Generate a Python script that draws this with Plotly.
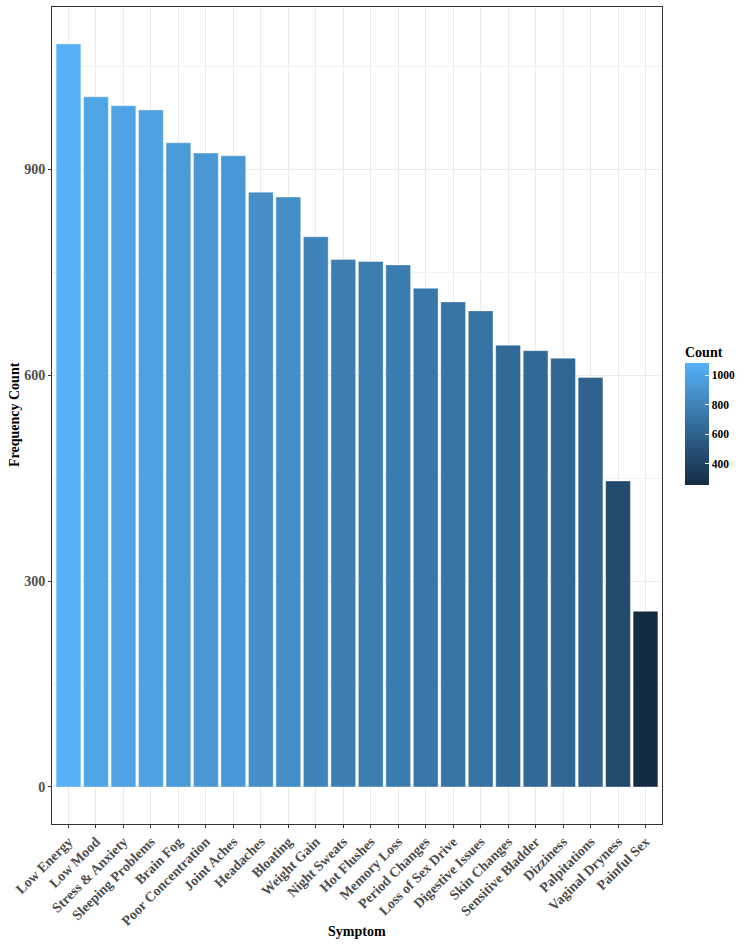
import plotly.graph_objects as go

symptoms = ["Low Energy", "Low Mood", "Stress & Anxiety", "Sleeping Problems", "Brain Fog",
            "Poor Concentration", "Joint Aches", "Headaches", "Bloating", "Weight Gain",
            "Night Sweats", "Hot Flushes", "Memory Loss", "Period Changes", "Loss of Sex Drive",
            "Digestive Issues", "Skin Changes", "Sensitive Bladder", "Dizziness", "Palpitations",
            "Vaginal Dryness", "Painful Sex"]
counts = [1083, 1006, 993, 987, 939, 924, 920, 867, 860, 802, 769, 766, 761, 727, 707,
          694, 644, 636, 625, 597, 446, 256]

y_ticks = [0, 300, 600, 900]
cbar_ticks = [400, 600, 800, 1000]

FONT = "Liberation Serif"
L, R, T, B = 52, 92, 7, 123
W, H = 754, 947

fig = go.Figure(go.Bar(
    x=symptoms, y=counts, width=0.9,
    marker=dict(color=counts, colorscale=[[0, "#132B43"], [1, "#56B1F7"]],
                cmin=min(counts), cmax=max(counts),
                line=dict(color="rgba(255,255,255,0.6)", width=0.6),
                colorbar=dict(
                    title=dict(text="<b>Count</b>", font=dict(family=FONT, size=14, color="black"), side="top"),
                    tickvals=cbar_ticks, ticktext=[f"<b>{v}</b>" for v in cbar_ticks],
                    tickfont=dict(family=FONT, size=11.5, color="black"),
                    thickness=24, thicknessmode="pixels", len=142, lenmode="pixels",
                    x=(685 - L) / (W - L - R), xanchor="left", xpad=0, ypad=0,
                    y=(H - B - 485) / (H - T - B), yanchor="bottom",
                    outlinewidth=0, ticks="inside", ticklen=4, tickcolor="white",
                    ticklabelposition="outside",
                )),
    showlegend=False,
))

fig.update_layout(
    width=W, height=H,
    margin=dict(l=L, r=R, t=T, b=B, autoexpand=False),
    paper_bgcolor="white", plot_bgcolor="white",
    font=dict(family=FONT),
    bargap=0.1,
)
fig.update_xaxes(
    automargin=False,
    tickangle=-45, tickfont=dict(family=FONT, size=14, color="#4D4D4D"),
    tickvals=symptoms, ticktext=[f"<b>{s}</b>" for s in symptoms],
    showline=True, linecolor="#333333", linewidth=1, mirror=True,
    ticks="outside", ticklen=3, tickcolor="#333333",
    showgrid=True, gridcolor="#EBEBEB", gridwidth=1,
    range=[-0.6, len(symptoms) - 0.4],
)
fig.update_yaxes(
    automargin=False,
    range=[-54, 1137],
    tickvals=y_ticks, ticktext=[f"<b>{v}</b>" for v in y_ticks],
    tickfont=dict(family=FONT, size=14, color="#4D4D4D"),
    showline=True, linecolor="#333333", linewidth=1, mirror=True,
    ticks="outside", ticklen=3, tickcolor="#333333",
    showgrid=True, gridcolor="#EBEBEB", gridwidth=1,
    minor=dict(tickvals=[150, 450, 750, 1050], showgrid=True, gridcolor="#F2F2F2", gridwidth=0.6, ticks=""),
    zeroline=False,
)
fig.add_annotation(text="<b>Symptom</b>", xref="paper", yref="paper",
                   x=0.5, y=-(931 - (H - B)) / (H - T - B), yanchor="middle", showarrow=False,
                   font=dict(family=FONT, size=14, color="black"))
fig.add_annotation(text="<b>Frequency Count</b>", xref="paper", yref="paper",
                   x=-(L - 14) / (W - L - R), xanchor="center", y=(H - B - 415) / (H - T - B),
                   yanchor="middle", textangle=-90, showarrow=False,
                   font=dict(family=FONT, size=14, color="black"))
fig.write_html("out.html", config={"displayModeBar": False},
               post_script="document.body.style.margin='0';document.body.style.overflow='hidden';")
